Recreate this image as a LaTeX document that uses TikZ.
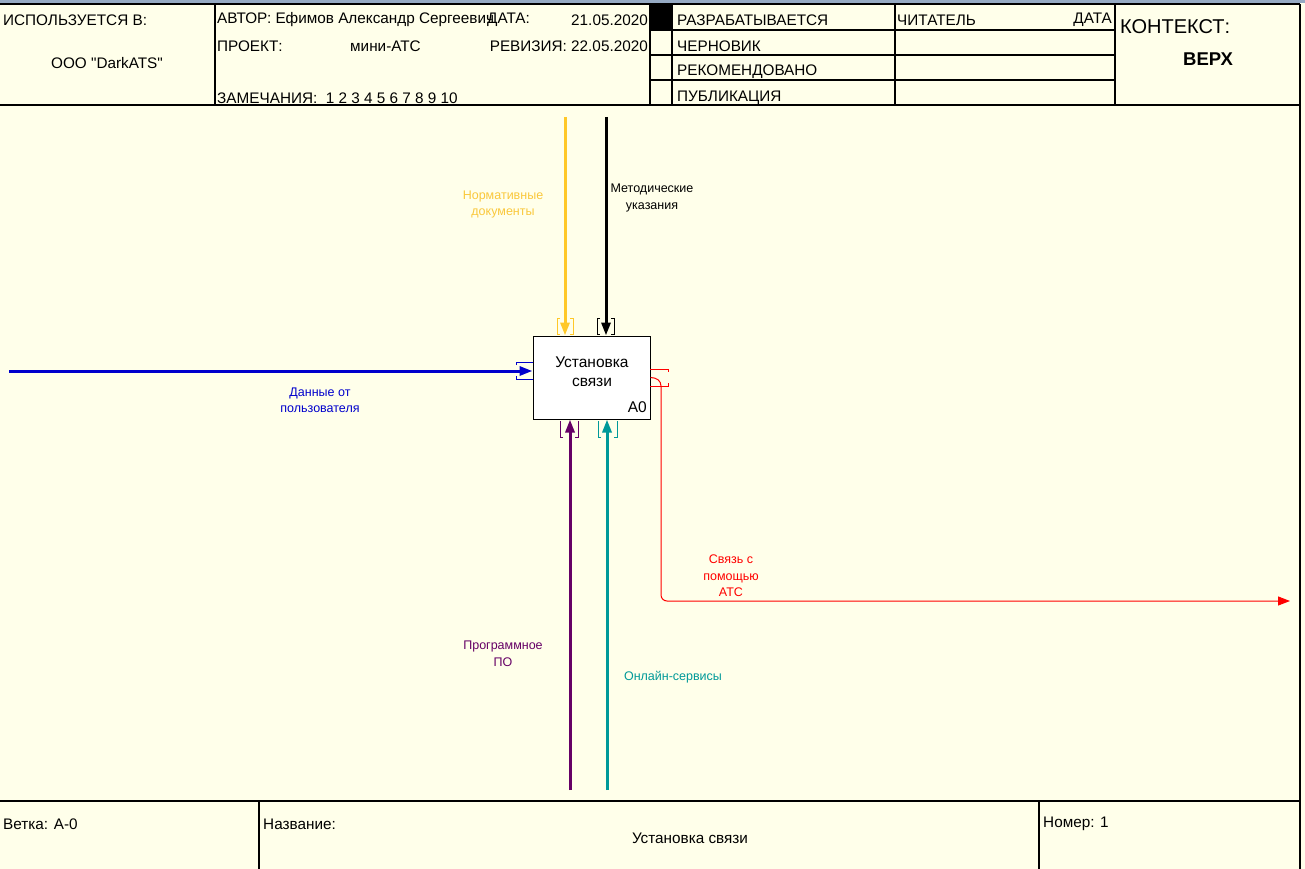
\documentclass[tikz,border=0pt]{standalone}
\usepackage{fontspec}
\setmainfont{Liberation Sans}
\usetikzlibrary{arrows.meta}
\definecolor{paper}{RGB}{255,255,234}
\definecolor{chrome}{RGB}{150,170,195}
\definecolor{normc}{RGB}{255,200,40}
\definecolor{normt}{RGB}{250,200,60}
\definecolor{userc}{RGB}{0,0,204}
\definecolor{progc}{RGB}{102,0,102}
\definecolor{onlc}{RGB}{0,153,153}
\definecolor{outc}{RGB}{255,0,0}
\begin{document}
\begin{tikzpicture}[x=1pt,y=-1pt,
  hdr/.style={anchor=west,inner sep=0pt,font=\fontsize{15.3}{17}\selectfont},
  lbl/.style={align=center,inner sep=0pt,font=\fontsize{12.5}{16.5}\selectfont},
  frame/.style={line width=1.5pt},
  pipe/.style={line width=3pt,-{Triangle[length=13pt,width=9pt]}},
  tun/.style={line width=1pt},
  func/.style={draw,line width=1pt,fill=white,minimum width=117pt,minimum height=83pt,inner sep=0pt}
]
% sheet
\fill[paper] (0,0) rectangle (1305,869);
\useasboundingbox (0,0) rectangle (1305,869);
\fill[chrome] (0,0) rectangle (1305,3);

% header frame
\draw[frame] (0,4) -- (1300,4);
\draw[frame] (0,105) -- (1300,105);
\draw[frame] (1300,4) -- (1300,869);
\draw[frame] (0,801) -- (1300,801);
\foreach \x in {215,650,672,895,1115}
  \draw[frame] (\x,4) -- (\x,105);
\foreach \y in {30,55,80}
  \draw[frame] (650,\y) -- (1115,\y);
\fill (650,4) rectangle (672,30);
\draw[frame] (259,801) -- (259,869);
\draw[frame] (1039,801) -- (1039,869);

% header texts
\node[hdr] (used) at (3,20) {ИСПОЛЬЗУЕТСЯ В:};
\node[hdr,anchor=center] (org) at (107,63) {ООО \textquotedbl DarkATS\textquotedbl};
\node[hdr] (author) at (217,20) {АВТОР: Ефимов Александр Сергеевич};
\node[hdr] (datel) at (487,20) {ДАТА:};
\node[hdr,anchor=east] (date) at (648,20) {21.05.2020};
\node[hdr] (proj) at (217,46) {ПРОЕКТ:};
\node[hdr] (projn) at (350,46) {мини-АТС};
\node[hdr,anchor=east] (rev) at (648,46) {РЕВИЗИЯ: 22.05.2020};
\node[hdr] (notes) at (217,98) {ЗАМЕЧАНИЯ:\ \ 1 2 3 4 5 6 7 8 9 10};
\node[hdr] (st1) at (677,20) {РАЗРАБАТЫВАЕТСЯ};
\node[hdr] (st2) at (677,46) {ЧЕРНОВИК};
\node[hdr] (st3) at (677,72) {РЕКОМЕНДОВАНО};
\node[hdr] (st4) at (677,98) {ПУБЛИКАЦИЯ};
\node[hdr] (reader) at (897,20) {ЧИТАТЕЛЬ};
\node[hdr,anchor=east] (rdate) at (1112,20) {ДАТА};
\node[hdr,font=\fontsize{20}{22}\selectfont] (ctx) at (1120,27) {КОНТЕКСТ:};
\node[hdr,anchor=center,font=\fontsize{18.5}{20}\bfseries] (top) at (1208,59) {ВЕРХ};

% footer texts
\node[hdr] (node) at (3,824) {Ветка: A-0};
\node[hdr] (title) at (263,824) {Название:};
\node[hdr,anchor=center] (titlen) at (690,838) {Установка связи};
\node[hdr] (num) at (1043,824) {Номер: 1};

% function box
\node[func] (a0) at (591.5,377.5) {};
\node[align=center,inner sep=0pt,font=\fontsize{15.5}{19}\selectfont] (a0t) at (592,371.5) {Установка\\связи};
\node[anchor=south east,inner sep=0pt,font=\fontsize{15.5}{17}\selectfont] (a0n) at (647,413) {A0};

% free ends
\coordinate (norm) at (565,117);
\coordinate (meth) at (606,117);
\coordinate (user) at (9,371);
\coordinate (prog) at (570,790);
\coordinate (onl) at (607,790);
\coordinate (out) at (1290,601);

% arrows
\draw[pipe,normc] (norm) -- (norm |- a0.north);
\draw[pipe] (meth) -- (meth |- a0.north);
\draw[pipe,userc] (user) -- (user -| a0.west);
\draw[pipe,progc] (prog) -- (prog |- a0.south);
\draw[pipe,onlc] (onl) -- (onl |- a0.south);
\draw[outc,line width=1pt,-{Triangle[length=12pt,width=9pt]}]
  (a0.east) .. controls (657,377.5) and (661,381) .. (661,386)
  [rounded corners=6pt] -- (661,601) -- (out);

% tunnels
\draw[tun,normc] (560,318) -| (557,334) -- (560,334) (570,318) -| (573,334) -- (570,334);
\draw[tun] (600,318) -| (597,334) -- (600,334) (611,318) -| (614,334) -- (611,334);
\draw[tun,userc] (516,365) |- (533,362) (516,376) |- (533,379);
\draw[tun,progc] (563,437) -| (560,421) (575,437) -| (578,421);
\draw[tun,onlc] (601,437) -| (598,421) (614,437) -| (617,421);
\draw[tun,outc] (650,369) -| (668,372) (650,386) -| (668,383);

% labels
\node[lbl,normt] (normL) at (503,204.5) {Нормативные\\документы};
\node[lbl] (methL) at (652,198) {Методические\\указания};
\node[lbl,userc] (userL) at (320,400.5) {Данные от\\пользователя};
\node[lbl,outc] (outL) at (731,576) {Связь с\\помощью\\АТС};
\node[lbl,progc] (progL) at (503,654) {Программное\\ПО};
\node[lbl,onlc] (onlL) at (673,677) {Онлайн-сервисы};
\end{tikzpicture}
\end{document}
